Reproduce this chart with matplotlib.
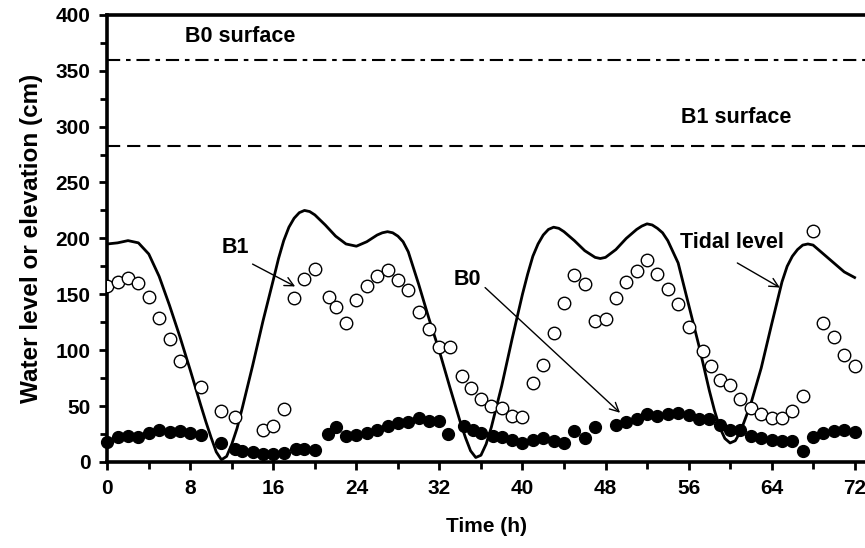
import numpy as np
import matplotlib
matplotlib.use('Agg')
import matplotlib.pyplot as plt

plt.rcParams['font.family'] = ['Liberation Sans', 'DejaVu Sans']
plt.rcParams['font.weight'] = 'bold'
plt.rcParams['lines.scale_dashes'] = False

# tidal level (cm), denser around the turning points
tide_t = [0, 1, 2, 3, 4, 5, 6, 7, 8, 9, 9.5, 10, 10.5, 11, 11.5, 12, 12.5,
          13, 14, 15, 16, 16.5, 17, 17.5, 18, 18.5, 19, 19.5, 20, 21, 22,
          23, 24, 25, 26, 26.5, 27, 27.5, 28, 28.5, 29, 30, 31, 32, 33, 34,
          34.5, 35, 35.5, 36, 36.5, 37, 38, 39, 40, 40.5, 41, 41.5, 42,
          42.5, 43, 43.5, 44, 45, 46, 47, 47.5, 48, 49, 50, 51, 51.5, 52,
          52.5, 53, 53.5, 54, 55, 56, 57, 58, 58.5, 59, 59.5, 60, 60.5, 61,
          62, 63, 64, 65, 65.5, 66, 66.5, 67, 67.5, 68, 69, 70, 71, 72]
tide_level = [195, 196, 198, 196, 186, 166, 140, 112, 82, 51, 36, 22, 9, 2,
              5, 16, 30, 48, 86, 126, 163, 182, 198, 210, 218, 223, 225, 224,
              221, 212, 202, 195, 193, 197, 203, 205, 206, 205, 202, 197, 188,
              159, 128, 99, 67, 36, 22, 10, 4, 6, 16, 31, 68, 110, 150, 168,
              184, 195, 203, 208, 210, 209, 206, 198, 189, 183, 182, 183, 190,
              200, 208, 211, 213, 212, 209, 205, 198, 178, 141, 104, 64, 46,
              31, 21, 17, 19, 27, 52, 84, 123, 161, 175, 184, 190, 194, 195,
              194, 186, 178, 170, 165]

# water level in borehole B1 (open circles)
b1_t = [0, 1, 2, 3, 4, 5, 6, 7, 9, 11, 12.3, 15, 16, 17, 18, 19, 20, 21.4,
        22, 23, 24, 25, 26, 27, 28, 29, 30, 31, 32, 33, 34.2, 35, 36, 37,
        38, 39, 40, 41, 42, 43, 44, 45, 46, 47, 48, 49, 50, 51, 52, 53, 54,
        55, 56, 57.4, 58.2, 59, 60, 61, 62, 63, 64, 65, 66, 67, 68, 69, 70,
        71, 72]
b1_level = [157, 161, 165, 160, 148, 129, 110, 90, 67, 46, 40, 29, 32, 47,
            147, 164, 173, 148, 139, 124, 145, 157, 166, 172, 163, 154, 134,
            119, 103, 103, 77, 66, 56, 50, 48, 41, 40, 71, 87, 115, 142, 167,
            159, 126, 128, 147, 161, 171, 181, 168, 155, 141, 121, 99, 86, 73,
            69, 56, 48, 43, 39, 39, 46, 59, 207, 124, 112, 96, 86]

# water level in borehole B0 (filled circles)
b0_t = [0, 1, 2, 3, 4, 5, 6, 7, 8, 9, 11, 12.3, 13, 14, 15, 16, 17, 18.2,
        19, 20, 21.3, 22, 23, 24, 25, 26, 27, 28, 29, 30, 31, 32, 32.8,
        34.4, 35.2, 36, 37.2, 38, 39, 40, 41, 42, 43, 44, 45, 46, 47, 49,
        50, 51, 52, 53, 54, 55, 56, 57, 58, 59, 60, 61, 62, 63, 64, 65, 66,
        67, 68, 69, 70, 71, 72]
b0_level = [18, 22, 23, 22, 26, 29, 27, 28, 26, 24, 17, 12, 10, 9, 7, 7, 8,
            12, 12, 11, 25, 31, 23, 24, 26, 29, 32, 35, 36, 39, 37, 37, 25,
            32, 29, 26, 23, 22, 20, 17, 20, 21, 19, 17, 28, 21, 31, 33, 36,
            38, 43, 41, 43, 44, 42, 38, 38, 33, 29, 29, 23, 21, 20, 19, 19,
            10, 22, 26, 28, 29, 27]

b0_surface = 360
b1_surface = 283

fig = plt.figure(figsize=(8.65, 5.48), dpi=100)
ax = fig.add_axes([0.124, 0.157, 0.876, 0.816])

ax.axhline(b0_surface, color='black', lw=1.5, linestyle=(0, (9.5, 4.2, 3.3, 4.2)))
ax.axhline(b1_surface, color='black', lw=1.5, linestyle=(0, (9.5, 5)))

ax.plot(tide_t, tide_level, color='black', lw=2.0, zorder=3,
        solid_joinstyle='round')
ax.plot(b1_t, b1_level, 'o', ms=9, mfc='white', mec='black', mew=1.0,
        linestyle='none', zorder=4)
ax.plot(b0_t, b0_level, 'o', ms=8.5, mfc='black', mec='black',
        linestyle='none', zorder=4, clip_on=False)

txt = dict(fontsize=15.5, fontweight='bold', va='center')
ax.text(7.5, 381, 'B0 surface', **txt)
ax.text(55.3, 308, 'B1 surface', **txt)
ax.text(12.3, 192, 'B1', ha='center', **txt)
ax.text(34.7, 163, 'B0', ha='center', **txt)
ax.text(55.2, 196, 'Tidal level', **txt)

arrow = dict(arrowstyle='->', color='black', lw=1.0, shrinkA=0, shrinkB=0,
             mutation_scale=16)
ax.annotate('', xy=(18.1, 157), xytext=(14.0, 177), arrowprops=arrow)
ax.annotate('', xy=(49.4, 44), xytext=(36.4, 156), arrowprops=arrow)
ax.annotate('', xy=(64.8, 156), xytext=(60.7, 178), arrowprops=arrow)

ax.set_xlim(0, 73)
ax.set_ylim(0, 400)
ax.set_xticks(np.arange(0, 73, 8))
ax.set_xticks(np.arange(0, 73, 4), minor=True)
ax.set_yticks(np.arange(0, 401, 50))
ax.set_yticks(np.arange(0, 401, 25), minor=True)

for side in ['left', 'bottom', 'top']:
    ax.spines[side].set_linewidth(2.6)
ax.spines['right'].set_visible(False)
ax.tick_params(which='both', direction='out', width=2, labelsize=15,
               top=False, right=False)
ax.tick_params(which='major', length=6, pad=6)
ax.tick_params(which='minor', length=5)
for lab in ax.get_xticklabels() + ax.get_yticklabels():
    lab.set_fontweight('bold')

ax.set_xlabel('Time (h)', fontsize=15, fontweight='bold', labelpad=14)
ax.set_ylabel('Water level or elevation (cm)', fontsize=17.5,
              fontweight='bold', labelpad=9)

fig.savefig('out.png', dpi=100)
